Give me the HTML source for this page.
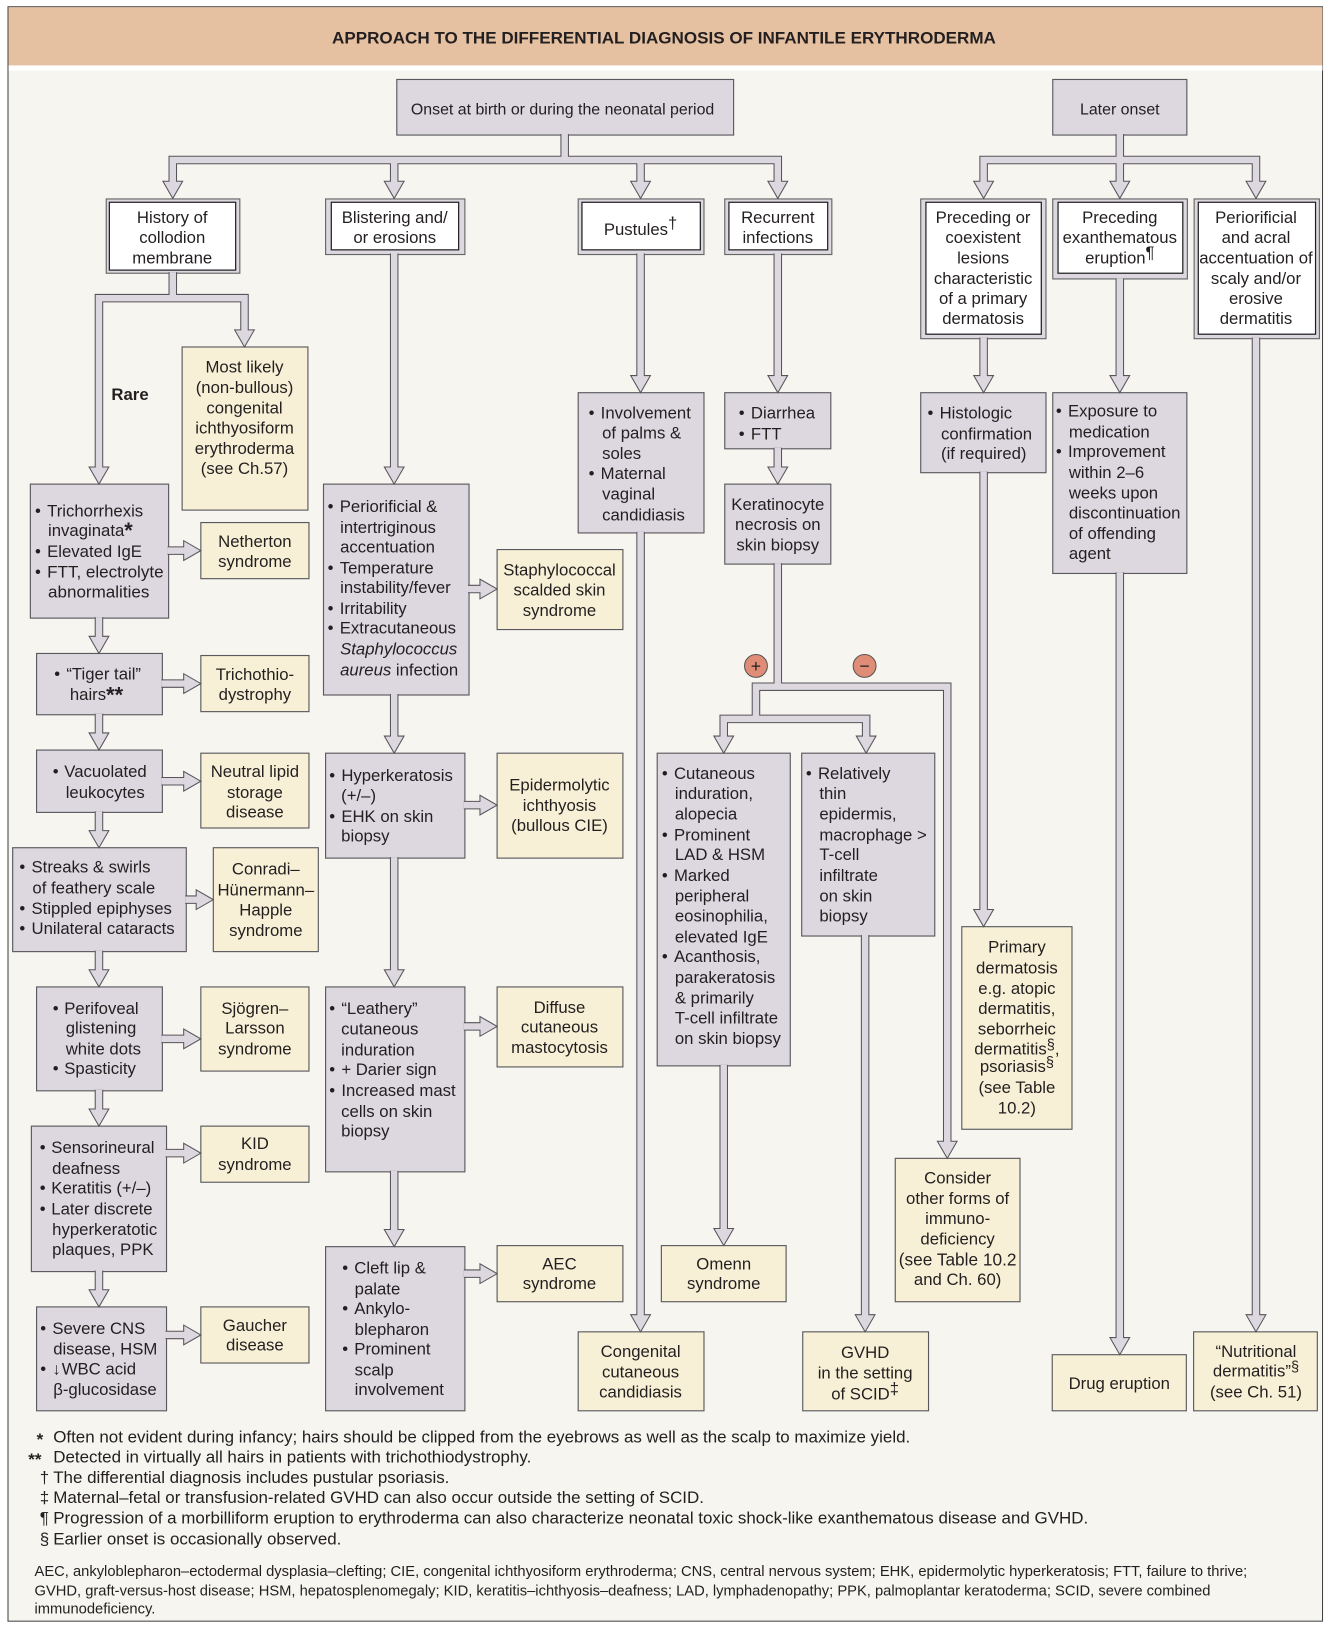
<!DOCTYPE html>
<html><head><meta charset="utf-8"><title>Approach to the differential diagnosis of infantile erythroderma</title>
<style>
html,body{margin:0;padding:0;background:#fff;width:1330px;height:1630px;overflow:hidden}
svg{display:block}
text{font-family:"Liberation Sans",Arial,sans-serif;font-size:16.1px;fill:#231f20}
.c text{text-anchor:middle}
.p rect{fill:#ddd7e0;stroke:#5a5a5e;stroke-width:1.1}
.y rect{fill:#f8f0d6;stroke:#5a5a5e;stroke-width:1.1}
.w rect{fill:#fff;stroke:#222;stroke-width:1.2}
.o rect{fill:#ddd7e0;stroke:#666;stroke-width:1.1}
.f text{font-size:16.32px}
.a text{font-size:14.18px}
.i{font-style:italic}
.s{font-size:16px}
.t{font-size:14px}
.st{font-weight:bold;font-size:21px}
</style></head><body>
<svg xmlns="http://www.w3.org/2000/svg" width="1330" height="1630" viewBox="-0.2 0 1279.4 1569" preserveAspectRatio="none">
<defs>
<path id="pp" fill="none" stroke-linejoin="miter" d="M543 129V154M166 179V154H748V179M379 154V179M616 154V179
M1077 129V154M946 179V154H1208V179M1077 154V179
M166 262V287M95 454V287H235V322M379 244V454M616 244V366M748 244V366M946 325V366M1077 268V366M1208 325V1270
M616 512V1270M748 431V454M748 542V661M911 1103V661H727V692M696 713V692H833V713M696 1025V1187M832 900V1270M946 454V880M1077 551V1292
M95 594V617M95 687V710M95 781V804M95 915V938M95 1049V1072M95 1223V1246
M379 668V713M379 825V938M379 1127V1188
M161 530H181M155 658H181M155 752H181M178 866H193M155 1000H181M159 1110H181M159 1285H181
M450 567H466M446 775H466M446 988H466M446 1226H466"/>
<path id="v" d="M-9.5-16.5H9.5L0 0Z"/>
<path id="h" d="M-16.5-9.5V9.5L0 0Z"/>
</defs>

<rect x="-1" y="0" width="1282" height="1569" fill="#fff"/>
<rect x="7.5" y="6.5" width="1264.5" height="1554" fill="#f6f5f0" stroke="#444" stroke-width="1"/>
<rect x="8" y="7" width="1264" height="56" fill="#e5c1a1"/>
<rect x="8" y="63" width="1264" height="5" fill="#fff"/>
<text x="638.5" y="42" text-anchor="middle" style="font-size:16.42px;font-weight:bold">APPROACH TO THE DIFFERENTIAL DIAGNOSIS OF INFANTILE ERYTHRODERMA</text>

<!-- purple boxes -->
<g class="p">
<rect x="381.5" y="76.5" width="324" height="53.5"/>
<rect x="1012.5" y="76.5" width="129" height="53.5"/>
<rect x="29" y="466" width="133" height="129"/>
<rect x="35" y="629" width="121" height="59"/>
<rect x="35" y="722" width="121" height="60"/>
<rect x="12" y="816" width="167" height="100"/>
<rect x="35" y="950" width="121" height="100"/>
<rect x="30" y="1084" width="130" height="140"/>
<rect x="35" y="1258" width="125" height="100"/>
<rect x="311" y="466" width="140" height="203"/>
<rect x="313" y="725" width="134" height="101"/>
<rect x="313" y="950" width="134" height="178"/>
<rect x="313" y="1200" width="134" height="158"/>
<rect x="556" y="378" width="121" height="135"/>
<rect x="697" y="378" width="102" height="54"/>
<rect x="697" y="466" width="102" height="77"/>
<rect x="632" y="725" width="128" height="301"/>
<rect x="771" y="725" width="128" height="176"/>
<rect x="885.5" y="378" width="120.5" height="77"/>
<rect x="1012.5" y="378" width="129" height="174"/>
</g>

<!-- double boxes -->
<g class="o">
<rect x="102" y="191.5" width="128.5" height="71.5"/>
<rect x="313" y="191.5" width="134" height="53.5"/>
<rect x="556" y="191.5" width="121" height="53.5"/>
<rect x="697" y="191.5" width="103" height="53.5"/>
<rect x="885.5" y="191.5" width="120.5" height="134.5"/>
<rect x="1012.5" y="191.5" width="129.5" height="77"/>
<rect x="1148.5" y="191.5" width="120.5" height="134.5"/>
</g>
<g class="w">
<rect x="105" y="194.7" width="121.5" height="65.3"/>
<rect x="318.5" y="194.7" width="122.5" height="45.8"/>
<rect x="559.6" y="194.7" width="113.9" height="45.8"/>
<rect x="701" y="194.7" width="95" height="45.8"/>
<rect x="890.5" y="194.7" width="111" height="127"/>
<rect x="1017.6" y="194.7" width="120" height="68.3"/>
<rect x="1152.5" y="194.7" width="112.8" height="127"/>
</g>

<!-- yellow boxes -->
<g class="y">
<rect x="175" y="334" width="121" height="157"/>
<rect x="193" y="503" width="104" height="54"/>
<rect x="193" y="631" width="104" height="54"/>
<rect x="193" y="725" width="104" height="72"/>
<rect x="205" y="816" width="101" height="100"/>
<rect x="193" y="950" width="104" height="81"/>
<rect x="193" y="1084" width="104" height="54"/>
<rect x="193" y="1258" width="104" height="54"/>
<rect x="478" y="529" width="121" height="77"/>
<rect x="478" y="725" width="121" height="101"/>
<rect x="478" y="950" width="121" height="77"/>
<rect x="478" y="1199" width="121" height="54"/>
<rect x="556" y="1282" width="121" height="76"/>
<rect x="636" y="1199" width="120" height="54"/>
<rect x="772" y="1282" width="121" height="76"/>
<rect x="861" y="1115" width="120" height="138"/>
<rect x="925" y="892" width="106" height="195"/>
<rect x="1012" y="1304" width="129" height="54"/>
<rect x="1148" y="1282" width="119" height="76"/>
</g>

<!-- connectors: dark outline, heads, then light core -->
<use href="#pp" stroke="#55555a" stroke-width="8.2"/>
<g fill="#ddd7e0" stroke="#55555a" stroke-width="1" stroke-linejoin="miter">
<use href="#v" x="166" y="191"/><use href="#v" x="379" y="191"/><use href="#v" x="616" y="191"/><use href="#v" x="748" y="191"/>
<use href="#v" x="946" y="191"/><use href="#v" x="1077" y="191"/><use href="#v" x="1208" y="191"/>
<use href="#v" x="95" y="466"/><use href="#v" x="235" y="334"/><use href="#v" x="379" y="466"/>
<use href="#v" x="616" y="378"/><use href="#v" x="748" y="378"/><use href="#v" x="946" y="378"/><use href="#v" x="1077" y="378"/>
<use href="#v" x="616" y="1282"/><use href="#v" x="748" y="466"/><use href="#v" x="696" y="725"/><use href="#v" x="833" y="725"/>
<use href="#v" x="911" y="1115"/><use href="#v" x="946" y="892"/><use href="#v" x="696" y="1199"/><use href="#v" x="832" y="1282"/>
<use href="#v" x="1077" y="1304"/><use href="#v" x="1208" y="1282"/>
<use href="#v" x="95" y="629"/><use href="#v" x="95" y="722"/><use href="#v" x="95" y="816"/><use href="#v" x="95" y="950"/><use href="#v" x="95" y="1084"/><use href="#v" x="95" y="1258"/>
<use href="#v" x="379" y="725"/><use href="#v" x="379" y="950"/><use href="#v" x="379" y="1200"/>
<use href="#h" x="193" y="530"/><use href="#h" x="193" y="658"/><use href="#h" x="193" y="752"/><use href="#h" x="205" y="866"/>
<use href="#h" x="193" y="1000"/><use href="#h" x="193" y="1110"/><use href="#h" x="193" y="1285"/>
<use href="#h" x="478" y="567"/><use href="#h" x="478" y="775"/><use href="#h" x="478" y="988"/><use href="#h" x="478" y="1226"/>
</g>
<use href="#pp" stroke="#ddd7e0" stroke-width="6.2"/>

<circle cx="727" cy="641" r="11" fill="#e08d77" stroke="#555" stroke-width="1"/>
<circle cx="831.5" cy="641" r="11" fill="#e08d77" stroke="#555" stroke-width="1"/>
<text x="727" y="647" text-anchor="middle" style="font-size:17px">+</text>
<text x="831.5" y="647" text-anchor="middle" style="font-size:17px">−</text>

<!-- centered labels -->
<g class="c">
<text x="541" y="110" style="font-size:15.32px">Onset at birth or during the neonatal period</text>
<text x="1077" y="110" style="font-size:15.32px">Later onset</text>
<text x="165.5" y="214.5">History of</text><text x="165.5" y="234">collodion</text><text x="165.5" y="253.5">membrane</text>
<text x="379.5" y="214.5">Blistering and/</text><text x="379.5" y="234">or erosions</text>
<text x="616" y="226">Pustules<tspan dy="-6" class="s">†</tspan></text>
<text x="748" y="214.5">Recurrent</text><text x="748" y="234">infections</text>
<text x="945.5" y="214.5">Preceding or</text><text x="945.5" y="234">coexistent</text><text x="945.5" y="253.5">lesions</text><text x="945.5" y="273.5">characteristic</text><text x="945.5" y="292.5">of a primary</text><text x="945.5" y="312">dermatosis</text>
<text x="1077" y="214.5">Preceding</text><text x="1077" y="234">exanthematous</text><text x="1077" y="253.5">eruption<tspan dy="-5" class="s">¶</tspan></text>
<text x="1208" y="214.5">Periorificial</text><text x="1208" y="234">and acral</text><text x="1208" y="253.5">accentuation of</text><text x="1208" y="273.5">scaly and/or</text><text x="1208" y="292.5">erosive</text><text x="1208" y="312">dermatitis</text>
<text x="235" y="358.5">Most likely</text><text x="235" y="378.5">(non-bullous)</text><text x="235" y="398">congenital</text><text x="235" y="417.5">ichthyosiform</text><text x="235" y="437">erythroderma</text><text x="235" y="456.5">(see Ch.57)</text>
<text x="245" y="526.5">Netherton</text><text x="245" y="546">syndrome</text>
<text x="245" y="654.5">Trichothio-</text><text x="245" y="674">dystrophy</text>
<text x="245" y="748">Neutral lipid</text><text x="245" y="768">storage</text><text x="245" y="787">disease</text>
<text x="255.5" y="842">Conradi–</text><text x="255.5" y="862">Hünermann–</text><text x="255.5" y="881">Happle</text><text x="255.5" y="901">syndrome</text>
<text x="245" y="976">Sjögren–</text><text x="245" y="995">Larsson</text><text x="245" y="1015">syndrome</text>
<text x="245" y="1106">KID</text><text x="245" y="1126">syndrome</text>
<text x="245" y="1281">Gaucher</text><text x="245" y="1300">disease</text>
<text x="538" y="554">Staphylococcal</text><text x="538" y="573">scalded skin</text><text x="538" y="593">syndrome</text>
<text x="538" y="761">Epidermolytic</text><text x="538" y="780.5">ichthyosis</text><text x="538" y="800">(bullous CIE)</text>
<text x="538" y="975">Diffuse</text><text x="538" y="994">cutaneous</text><text x="538" y="1013.5">mastocytosis</text>
<text x="538" y="1222">AEC</text><text x="538" y="1241">syndrome</text>
<text x="616" y="1306">Congenital</text><text x="616" y="1326">cutaneous</text><text x="616" y="1345">candidiasis</text>
<text x="748" y="491">Keratinocyte</text><text x="748" y="510">necrosis on</text><text x="748" y="530">skin biopsy</text>
<text x="696" y="1222">Omenn</text><text x="696" y="1241">syndrome</text>
<text x="832" y="1307">GVHD</text><text x="832" y="1327">in the setting</text><text x="832" y="1347">of SCID<tspan dy="-5" class="s">‡</tspan></text>
<text x="921" y="1139">Consider</text><text x="921" y="1159">other forms of</text><text x="921" y="1178">immuno-</text><text x="921" y="1198">deficiency</text><text x="921" y="1218" style="font-size:16.6px">(see Table 10.2</text><text x="921" y="1237">and Ch. 60)</text>
<text x="978" y="917">Primary</text><text x="978" y="937">dermatosis</text><text x="978" y="957">e.g. atopic</text><text x="978" y="976">dermatitis,</text><text x="978" y="996">seborrheic</text><text x="978" y="1015">dermatitis<tspan dy="-5" class="t">§</tspan><tspan dy="5">,</tspan></text><text x="978" y="1032">psoriasis<tspan dy="-5" class="t">§</tspan></text><text x="978" y="1052">(see Table</text><text x="978" y="1072">10.2)</text>
<text x="1076.5" y="1337">Drug eruption</text>
<text x="1208" y="1306">“Nutritional</text><text x="1208" y="1325">dermatitis”<tspan dy="-5" class="t">§</tspan></text><text x="1208" y="1345">(see Ch. 51)</text>
</g>

<text x="107" y="385" style="font-weight:bold">Rare</text>

<!-- bulleted labels -->
<g>
<text x="33.5" y="497">•<tspan dx="6">Trichorrhexis</tspan></text><text x="46" y="516">invaginata<tspan class="st" dy="2">*</tspan></text><text x="33.5" y="536">•<tspan dx="6">Elevated IgE</tspan></text><text x="33.5" y="556">•<tspan dx="6" style="font-size:16.4px">FTT, electrolyte</tspan></text><text x="46" y="575" style="font-size:16.4px">abnormalities</text>
<text x="52" y="654">•<tspan dx="6">“Tiger tail”</tspan></text><text x="67" y="674">hairs<tspan class="st" dy="2">**</tspan></text>
<text x="50.5" y="748">•<tspan dx="5.5">Vacuolated</tspan></text><text x="63" y="768">leukocytes</text>
<text x="18.5" y="840">•<tspan dx="6">Streaks &amp; swirls</tspan></text><text x="31" y="860">of feathery scale</text><text x="18.5" y="880">•<tspan dx="6">Stippled epiphyses</tspan></text><text x="18.5" y="899">•<tspan dx="6">Unilateral cataracts</tspan></text>
<text x="50.5" y="976">•<tspan dx="5.5">Perifoveal</tspan></text><text x="63" y="995">glistening</text><text x="63" y="1015">white dots</text><text x="50.5" y="1034">•<tspan dx="5.5">Spasticity</tspan></text>
<text x="38" y="1110">•<tspan dx="5.5">Sensorineural</tspan></text><text x="50" y="1130">deafness</text><text x="38" y="1149">•<tspan dx="5.5">Keratitis (+/–)</tspan></text><text x="38" y="1169">•<tspan dx="5.5">Later discrete</tspan></text><text x="50" y="1189">hyperkeratotic</text><text x="50" y="1208">plaques, PPK</text>
<text x="38.5" y="1284">•<tspan dx="6">Severe CNS</tspan></text><text x="51" y="1304">disease, HSM</text><text x="38.5" y="1323">•<tspan dx="6" style="font-weight:bold">↓</tspan><tspan dx="1">WBC acid</tspan></text><text x="51" y="1343">β-glucosidase</text>
<text x="315" y="493">•<tspan dx="6">Periorificial &amp;</tspan></text><text x="327" y="513">intertriginous</text><text x="327" y="532">accentuation</text><text x="315" y="552">•<tspan dx="6">Temperature</tspan></text><text x="327" y="571">instability/fever</text><text x="315" y="591">•<tspan dx="6">Irritability</tspan></text><text x="315" y="610">•<tspan dx="6">Extracutaneous</tspan></text><text x="327" y="630" class="i">Staphylococcus</text><text x="327" y="650"><tspan class="i">aureus</tspan> infection</text>
<text x="316.5" y="752">•<tspan dx="6">Hyperkeratosis</tspan></text><text x="328" y="771">(+/–)</text><text x="316.5" y="791">•<tspan dx="6">EHK on skin</tspan></text><text x="328" y="810">biopsy</text>
<text x="316.5" y="976">•<tspan dx="6">“Leathery”</tspan></text><text x="328" y="996">cutaneous</text><text x="328" y="1016">induration</text><text x="316.5" y="1035">•<tspan dx="6">+ Darier sign</tspan></text><text x="316.5" y="1055">•<tspan dx="6">Increased mast</tspan></text><text x="328" y="1075">cells on skin</text><text x="328" y="1094">biopsy</text>
<text x="329" y="1226">•<tspan dx="6">Cleft lip &amp;</tspan></text><text x="341" y="1246">palate</text><text x="329" y="1265">•<tspan dx="6">Ankylo-</tspan></text><text x="341" y="1285">blepharon</text><text x="329" y="1304">•<tspan dx="6">Prominent</tspan></text><text x="341" y="1324">scalp</text><text x="341" y="1343">involvement</text>
<text x="566" y="403">•<tspan dx="6">Involvement</tspan></text><text x="579" y="422">of palms &amp;</text><text x="579" y="442">soles</text><text x="566" y="461">•<tspan dx="6">Maternal</tspan></text><text x="579" y="481">vaginal</text><text x="579" y="501">candidiasis</text>
<text x="710.5" y="403">•<tspan dx="6">Diarrhea</tspan></text><text x="710.5" y="423">•<tspan dx="6">FTT</tspan></text>
<text x="636.5" y="750">•<tspan dx="6">Cutaneous</tspan></text><text x="649" y="769">induration,</text><text x="649" y="789">alopecia</text><text x="636.5" y="809">•<tspan dx="6">Prominent</tspan></text><text x="649" y="828">LAD &amp; HSM</text><text x="636.5" y="848">•<tspan dx="6">Marked</tspan></text><text x="649" y="868">peripheral</text><text x="649" y="887">eosinophilia,</text><text x="649" y="907">elevated IgE</text><text x="636.5" y="926">•<tspan dx="6">Acanthosis,</tspan></text><text x="649" y="946">parakeratosis</text><text x="649" y="966">&amp; primarily</text><text x="649" y="985">T-cell infiltrate</text><text x="649" y="1005">on skin biopsy</text>
<text x="775" y="750">•<tspan dx="6">Relatively</tspan></text><text x="788" y="769">thin</text><text x="788" y="789">epidermis,</text><text x="788" y="809">macrophage &gt;</text><text x="788" y="828">T-cell</text><text x="788" y="848">infiltrate</text><text x="788" y="868">on skin</text><text x="788" y="887">biopsy</text>
<text x="892" y="403">•<tspan dx="6">Histologic</tspan></text><text x="905" y="423">confirmation</text><text x="905" y="442">(if required)</text>
<text x="1015.5" y="401">•<tspan dx="6">Exposure to</tspan></text><text x="1028" y="421">medication</text><text x="1015.5" y="440">•<tspan dx="6">Improvement</tspan></text><text x="1028" y="460">within 2–6</text><text x="1028" y="480">weeks upon</text><text x="1028" y="499">discontinuation</text><text x="1028" y="519">of offending</text><text x="1028" y="538">agent</text>
</g>

<!-- footnotes -->
<g class="f">
<text x="35" y="1391" class="st">*</text><text x="51" y="1388.7">Often not evident during infancy; hairs should be clipped from the eyebrows as well as the scalp to maximize yield.</text>
<text x="27" y="1410" class="st">**</text><text x="51" y="1407.7">Detected in virtually all hairs in patients with trichothiodystrophy.</text>
<text x="38" y="1427.7">†</text><text x="51" y="1427.7">The differential diagnosis includes pustular psoriasis.</text>
<text x="38" y="1446.7">‡</text><text x="51" y="1446.7">Maternal–fetal or transfusion-related GVHD can also occur outside the setting of SCID.</text>
<text x="38" y="1466.7">¶</text><text x="51" y="1466.7">Progression of a morbilliform eruption to erythroderma can also characterize neonatal toxic shock-like exanthematous disease and GVHD.</text>
<text x="38" y="1486.7">§</text><text x="51" y="1486.7">Earlier onset is occasionally observed.</text>
</g>
<g class="a">
<text x="33" y="1517">AEC, ankyloblepharon–ectodermal dysplasia–clefting; CIE, congenital ichthyosiform erythroderma; CNS, central nervous system; EHK, epidermolytic hyperkeratosis; FTT, failure to thrive;</text>
<text x="33" y="1536">GVHD, graft-versus-host disease; HSM, hepatosplenomegaly; KID, keratitis–ichthyosis–deafness; LAD, lymphadenopathy; PPK, palmoplantar keratoderma; SCID, severe combined</text>
<text x="33" y="1553">immunodeficiency.</text>
</g>
</svg>
</body></html>
